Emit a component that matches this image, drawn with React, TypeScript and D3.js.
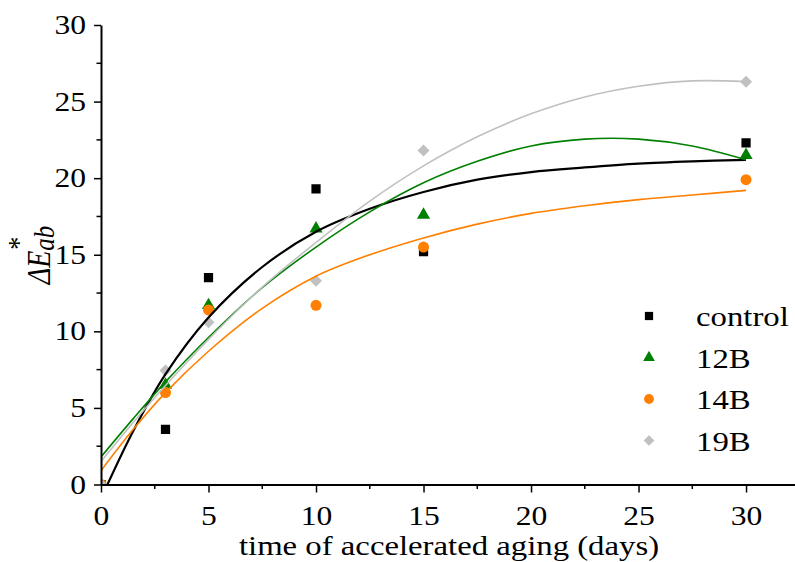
import React, { useRef, useEffect } from 'react';
import * as d3 from 'd3';

// measured points (days of accelerated aging vs colour difference)
const days = [0, 3, 5, 10, 15, 30];
const control = [0, 3.6, 13.5, 19.3, 15.2, 22.3];
const s12B = [0, 6.5, 11.7, 16.7, 17.6, 21.5];
const s14B = [0, 6.0, 11.4, 11.7, 15.5, 19.9];
const s19B = [0, 7.45, 10.6, 13.3, 21.8, 26.3];

// fitted trend curves
const fitDays = [0, 1.5, 3, 5, 7.5, 10, 12.5, 15, 17.5, 20, 22.5, 25, 27.5, 30];
const controlFitDays = [0.3, 1.5, 3, 5, 7.5, 10, 12.5, 15, 17.5, 20, 22.5, 25, 27.5, 30];
const controlFit = [0, 3.5, 7.2, 10.9, 14.2, 16.5, 18.0, 19.1, 19.9, 20.4, 20.7, 20.95, 21.1, 21.2];
const fit12B = [1.8, 4.3, 6.7, 9.6, 12.85, 15.5, 17.8, 19.7, 21.1, 22.1, 22.55, 22.55, 22.1, 21.2];
const fit14B = [0.9, 3.6, 6.0, 8.7, 11.5, 13.6, 15.0, 16.1, 17.0, 17.7, 18.2, 18.6, 18.9, 19.2];
const fit19B = [1.5, 4.05, 6.46, 9.47, 12.89, 15.8, 18.5, 20.8, 22.7, 24.2, 25.3, 26.0, 26.35, 26.3];

const xTicks = [0, 5, 10, 15, 20, 25, 30];
const yTicks = [0, 5, 10, 15, 20, 25, 30];

const seriesNames = ['control', '12B', '14B', '19B'];

const App = () => {
  const svgRef = useRef(null);

  useEffect(() => {
    const width = 795;
    const height = 562;
    const font = "'Times New Roman', 'Liberation Serif', serif";
    const stretch = 1.17; // the original text is a bit wide

    const svg = d3.select(svgRef.current)
      .attr('width', width)
      .attr('height', height)
      .style('font-family', font);
    svg.selectAll('*').remove();

    const x = d3.scaleLinear().domain([0, 32.3]).range([101, 795.5]);
    const y = d3.scaleLinear().domain([0, 30]).range([484.5, 25]);

    const series = [
      { name: seriesNames[0], values: control, fx: controlFitDays, fit: controlFit, color: '#000000', width: 2.2, symbol: d3.symbolSquare, size: 85, rot: 0 },
      { name: seriesNames[1], values: s12B, fx: fitDays, fit: fit12B, color: '#008000', width: 1.6, symbol: d3.symbolTriangle, size: 75, rot: 0 },
      { name: seriesNames[2], values: s14B, fx: fitDays, fit: fit14B, color: '#ff8000', width: 1.6, symbol: d3.symbolCircle, size: 95, rot: 0 },
      { name: seriesNames[3], values: s19B, fx: fitDays, fit: fit19B, color: '#c0c0c0', width: 1.6, symbol: d3.symbolSquare, size: 72, rot: 45 },
    ];

    svg.append('defs').append('clipPath').attr('id', 'plot-clip')
      .append('rect')
      .attr('x', x(0)).attr('y', y(30))
      .attr('width', x(32.3) - x(0)).attr('height', y(0) - y(30));

    const plot = svg.append('g').attr('clip-path', 'url(#plot-clip)');

    // markers
    series.forEach(s => {
      plot.append('g')
        .selectAll('path')
        .data(days.map((d, i) => [d, s.values[i]]))
        .enter()
        .append('path')
        .attr('transform', d => `translate(${x(d[0])},${y(d[1])}) rotate(${s.rot})`)
        .attr('d', d3.symbol().type(s.symbol).size(s.size))
        .attr('fill', s.color);
    });

    // fit lines
    const line = d3.line().x(d => x(d[0])).y(d => y(d[1])).curve(d3.curveCatmullRom);
    series.forEach(s => {
      plot.append('path')
        .datum(s.fx.map((d, i) => [d, s.fit[i]]))
        .attr('d', line)
        .attr('fill', 'none')
        .attr('stroke', s.color)
        .attr('stroke-width', s.width);
    });

    // axes
    const minorX = d3.range(2.5, 30, 5);
    const minorY = d3.range(2.5, 30, 5);

    const xAxis = svg.append('g').attr('transform', `translate(0,${y(0)})`);
    xAxis.call(d3.axisBottom(x).tickValues(xTicks).tickSize(8).tickPadding(13).tickSizeOuter(0));
    xAxis.append('g').selectAll('line').data(minorX).enter().append('line')
      .attr('x1', d => x(d)).attr('x2', d => x(d)).attr('y1', 0).attr('y2', 4.5)
      .attr('stroke', '#000').attr('stroke-width', 1.5);

    const yAxis = svg.append('g').attr('transform', `translate(${x(0)},0)`);
    yAxis.call(d3.axisLeft(y).tickValues(yTicks).tickSize(7).tickPadding(8).tickSizeOuter(0));
    yAxis.append('g').selectAll('line').data(minorY).enter().append('line')
      .attr('y1', d => y(d)).attr('y2', d => y(d)).attr('x1', 0).attr('x2', -4.5)
      .attr('stroke', '#000').attr('stroke-width', 1.5);

    svg.selectAll('.domain').attr('stroke', '#000').attr('stroke-width', 2);
    svg.selectAll('.tick line').attr('stroke', '#000').attr('stroke-width', 1.5);
    xAxis.attr('font-family', null).attr('font-size', null);
    yAxis.attr('font-family', null).attr('font-size', null);
    svg.selectAll('.tick text')
      .style('font-family', font)
      .style('font-size', '27px')
      .attr('fill', '#000');
    xAxis.selectAll('.tick text').attr('transform', `scale(${stretch},1)`);
    yAxis.selectAll('.tick text')
      .attr('x', -15 / stretch)
      .attr('transform', `scale(${stretch},1)`);

    // axis titles
    svg.append('text')
      .attr('transform', `translate(449,555) scale(${stretch},1)`)
      .attr('text-anchor', 'middle')
      .style('font-family', font)
      .style('font-size', '28px')
      .text('time of accelerated aging (days)');

    const yTitle = svg.append('text')
      .attr('transform', `translate(50,255) scale(${stretch},1) rotate(-90)`)
      .attr('text-anchor', 'middle')
      .style('font-family', font)
      .style('font-size', '28px');
    yTitle.append('tspan').attr('font-style', 'italic').text('ΔE');
    yTitle.append('tspan').attr('font-style', 'italic').style('font-size', '25px').attr('dy', 3).text('ab');
    yTitle.append('tspan').style('font-size', '26px').attr('dx', -24).attr('dy', -22).text('*');

    // legend
    const legend = svg.append('g');
    series.forEach((s, i) => {
      const cy = 316 + i * 41.5;
      legend.append('path')
        .attr('transform', `translate(649,${cy}) rotate(${s.rot})`)
        .attr('d', d3.symbol().type(s.symbol).size(s.size * 0.8))
        .attr('fill', s.color);
      legend.append('text')
        .attr('transform', `translate(696,${cy + 10}) scale(${stretch},1)`)
        .style('font-family', font)
        .style('font-size', '28px')
        .text(s.name);
    });
  }, []);

  return (
    <div style={{ position: 'absolute', left: 0, top: 0, background: '#fff' }}>
      <svg ref={svgRef}></svg>
    </div>
  );
};

export default App;
